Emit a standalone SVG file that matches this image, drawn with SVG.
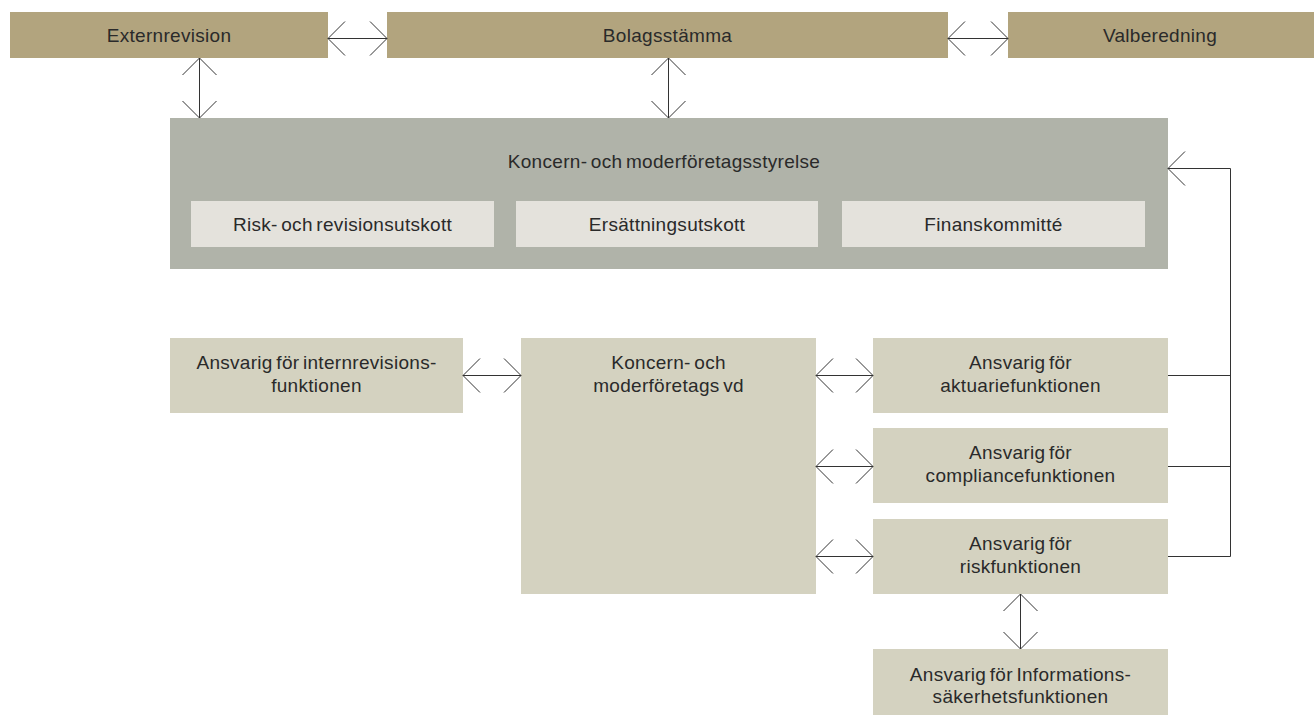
<svg xmlns="http://www.w3.org/2000/svg" width="1314" height="715" viewBox="0 0 1314 715">
<style>
  .t { font-family: "Liberation Sans", Arial, sans-serif; font-size: 19px; fill: #2a2a2a; text-anchor: middle; letter-spacing: 0.3px; word-spacing: -2px; }
  .gold { fill: #b2a47e; }
  .board { fill: #b0b3a9; }
  .sub { fill: #e4e2dc; }
  .func { fill: #d4d2c0; }
  .c { fill: none; stroke: #333333; stroke-width: 1; }
  .a { marker-start: url(#ah); marker-end: url(#ah); }
</style>
<defs>
  <marker id="ah" markerUnits="userSpaceOnUse" orient="auto-start-reverse" refX="0" refY="0" viewBox="-18 -18 20 36" markerWidth="20" markerHeight="36" overflow="visible">
    <path d="M-17,-17 L0,0 L-17,17" fill="none" stroke="#333333" stroke-width="1"/>
  </marker>
</defs>

<g id="externrevision">
  <rect class="gold" x="10" y="12" width="318" height="46"/>
  <text class="t" x="169" y="42">Externrevision</text>
</g>
<g id="bolagsstamma">
  <rect class="gold" x="387" y="12" width="561" height="46"/>
  <text class="t" x="667.5" y="42">Bolagsstämma</text>
</g>
<g id="valberedning">
  <rect class="gold" x="1008" y="12" width="306" height="46"/>
  <text class="t" x="1160" y="42">Valberedning</text>
</g>

<g id="styrelse">
  <rect class="board" x="170" y="118" width="998" height="151"/>
  <text class="t" x="664" y="168">Koncern- och moderföretagsstyrelse</text>
</g>
<g id="risk-revisionsutskott">
  <rect class="sub" x="191" y="201" width="303" height="46"/>
  <text class="t" x="342.5" y="231">Risk- och revisionsutskott</text>
</g>
<g id="ersattningsutskott">
  <rect class="sub" x="516" y="201" width="302" height="46"/>
  <text class="t" x="667" y="231">Ersättningsutskott</text>
</g>
<g id="finanskommitte">
  <rect class="sub" x="842" y="201" width="303" height="46"/>
  <text class="t" x="993.5" y="231">Finanskommitté</text>
</g>

<g id="internrevision">
  <rect class="func" x="170" y="338" width="293" height="75"/>
  <text class="t" x="316.5" y="369">Ansvarig för internrevisions-</text>
  <text class="t" x="316.5" y="392">funktionen</text>
</g>
<g id="vd">
  <rect class="func" x="521" y="338" width="295" height="256"/>
  <text class="t" x="668.5" y="369">Koncern- och</text>
  <text class="t" x="668.5" y="392">moderföretags vd</text>
</g>
<g id="aktuarie">
  <rect class="func" x="873" y="338" width="295" height="75"/>
  <text class="t" x="1020.5" y="369">Ansvarig för</text>
  <text class="t" x="1020.5" y="392">aktuariefunktionen</text>
</g>
<g id="compliance">
  <rect class="func" x="873" y="428" width="295" height="75"/>
  <text class="t" x="1020.5" y="459">Ansvarig för</text>
  <text class="t" x="1020.5" y="482">compliancefunktionen</text>
</g>
<g id="riskfunktion">
  <rect class="func" x="873" y="519" width="295" height="75"/>
  <text class="t" x="1020.5" y="550">Ansvarig för</text>
  <text class="t" x="1020.5" y="573">riskfunktionen</text>
</g>
<g id="informationssakerhet">
  <rect class="func" x="873" y="649" width="295" height="66"/>
  <text class="t" x="1020.5" y="681">Ansvarig för Informations-</text>
  <text class="t" x="1020.5" y="703">säkerhetsfunktionen</text>
</g>

<g id="connectors">
  <line class="c a" x1="328" y1="38.5" x2="387" y2="38.5"/>
  <line class="c a" x1="948" y1="38.5" x2="1008" y2="38.5"/>
  <line class="c a" x1="199.5" y1="58" x2="199.5" y2="118"/>
  <line class="c a" x1="668.5" y1="58" x2="668.5" y2="118"/>
  <line class="c a" x1="463" y1="375.5" x2="521" y2="375.5"/>
  <line class="c a" x1="816" y1="375.5" x2="873" y2="375.5"/>
  <line class="c a" x1="816" y1="466.5" x2="873" y2="466.5"/>
  <line class="c a" x1="816" y1="556.5" x2="873" y2="556.5"/>
  <line class="c a" x1="1020.5" y1="594" x2="1020.5" y2="649"/>
  <line class="c" x1="1168" y1="375.5" x2="1230.5" y2="375.5"/>
  <line class="c" x1="1168" y1="466.5" x2="1230.5" y2="466.5"/>
  <polyline class="c" points="1168,556.5 1230.5,556.5 1230.5,168.5 1168,168.5" marker-end="url(#ah)"/>
</g>
</svg>
